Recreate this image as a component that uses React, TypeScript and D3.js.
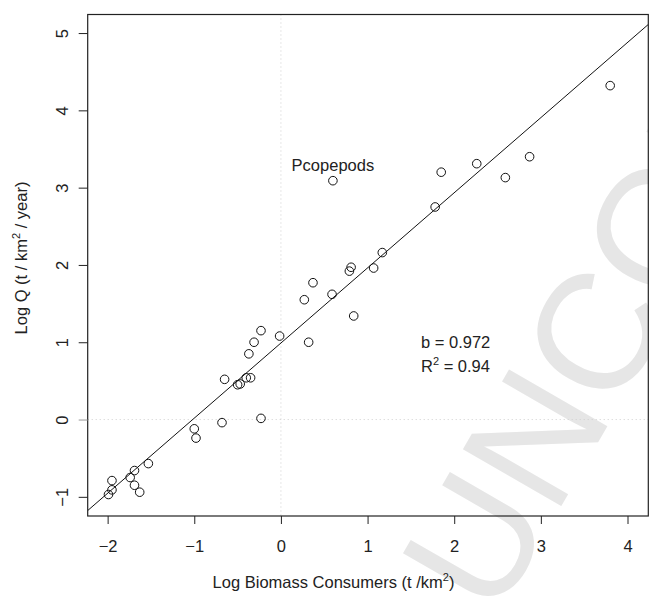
import React, { useEffect, useRef } from 'react';
import * as d3 from 'd3';

// log biomass consumers (x) vs log Q (y)
const biomass = [3.80, 0.60, 1.85, 2.26, 2.59, 2.87, 1.78, 1.17, 1.07, 0.81, 0.79, 0.37, 0.27, 0.59, 0.84, 0.32,
  -0.015, -0.23, -0.31, -0.37, -0.65, -0.50, -0.47, -0.40, -0.35, -0.23, -0.68, -1.00, -0.98, -1.53, -1.69,
  -1.74, -1.69, -1.63, -1.95, -1.95, -1.99];
const logQ = [4.32, 3.09, 3.20, 3.31, 3.13, 3.40, 2.75, 2.16, 1.96, 1.97, 1.92, 1.77, 1.55, 1.62, 1.34, 1.00,
  1.08, 1.15, 1.00, 0.85, 0.52, 0.45, 0.46, 0.54, 0.54, 0.015, -0.04, -0.12, -0.24, -0.57, -0.66,
  -0.75, -0.85, -0.94, -0.79, -0.91, -0.97];
const xTicks = [-2, -1, 0, 1, 2, 3, 4];
const yTicks = [-1, 0, 1, 2, 3, 4, 5];
const intercept = 0.99;
const slope = 0.972;
const labelled = { name: 'Pcopepods', index: 1 };

const fmt = (v: number) => (v < 0 ? '\u2212' + Math.abs(v) : String(v));

const App = () => {
  const svgRef = useRef<SVGSVGElement>(null);

  useEffect(() => {
    document.body.style.margin = '0';
    const svg = d3.select(svgRef.current);
    svg.selectAll('*').remove();
    const left = 87.7, right = 648.3, top = 14.5, bottom = 516;
    const font = 'Liberation Sans, Arial, Helvetica, sans-serif';
    const fs = 16.5;

    const x = d3.scaleLinear().domain([-2.23, 4.24]).range([left, right]);
    const y = d3.scaleLinear().domain([-1.248, 5.24]).range([bottom, top]);

    // watermark
    svg.append('text')
      .attr('transform', 'translate(495,621) rotate(-60)')
      .attr('font-family', font)
      .attr('font-size', 165)
      .attr('fill', '#e6e6e6')
      .text('UNCORRECTED PROOF');

    // dotted zero lines
    svg.append('line')
      .attr('x1', x(0)).attr('x2', x(0)).attr('y1', top).attr('y2', bottom)
      .attr('stroke', '#cfcfcf').attr('stroke-dasharray', '1,3');
    svg.append('line')
      .attr('x1', left).attr('x2', right).attr('y1', y(0)).attr('y2', y(0))
      .attr('stroke', '#cfcfcf').attr('stroke-dasharray', '1,3');

    // regression line, clipped to the box
    svg.append('clipPath').attr('id', 'box')
      .append('rect').attr('x', left).attr('y', top).attr('width', right - left).attr('height', bottom - top);
    const dom = x.domain();
    svg.append('line')
      .attr('clip-path', 'url(#box)')
      .attr('x1', x(dom[0])).attr('y1', y(intercept + slope * dom[0]))
      .attr('x2', x(dom[1])).attr('y2', y(intercept + slope * dom[1]))
      .attr('stroke', '#111').attr('stroke-width', 1);

    // points
    svg.selectAll('circle')
      .data(biomass)
      .enter().append('circle')
        .attr('cx', d => x(d))
        .attr('cy', (d, i) => y(logQ[i]))
        .attr('r', 4.3)
        .attr('fill', 'none')
        .attr('stroke', '#111')
        .attr('stroke-width', 1);

    svg.append('text')
      .attr('x', x(biomass[labelled.index]))
      .attr('y', y(logQ[labelled.index]) - 10)
      .attr('text-anchor', 'middle')
      .attr('font-family', font).attr('font-size', fs).attr('fill', '#222')
      .text(labelled.name);

    // box
    svg.append('rect')
      .attr('x', left).attr('y', top).attr('width', right - left).attr('height', bottom - top)
      .attr('fill', 'none').attr('stroke', '#222').attr('stroke-width', 1.2);

    // x axis
    const xa = svg.append('g').attr('transform', `translate(0,${bottom})`)
      .call(d3.axisBottom(x).tickValues(xTicks).tickSize(8).tickFormat(d => fmt(+d)));
    xa.select('.domain').remove();
    xa.selectAll('line').attr('stroke', '#222');
    xa.selectAll('text').attr('font-family', font).attr('font-size', fs).attr('fill', '#222').attr('dy', 0).attr('y', 36);

    // y axis
    const ya = svg.append('g').attr('transform', `translate(${left},0)`)
      .call(d3.axisLeft(y).tickValues(yTicks).tickSize(9).tickFormat(d => fmt(+d)));
    ya.select('.domain').remove();
    ya.selectAll('line').attr('stroke', (d: any) => (d === 0 ? '#999' : '#222'));
    ya.selectAll('text')
      .attr('font-family', font).attr('font-size', fs).attr('fill', '#222')
      .attr('x', null).attr('dy', null).attr('text-anchor', 'middle')
      .attr('transform', 'translate(-20,0) rotate(-90)');

    // axis titles
    const xt = svg.append('text')
      .attr('x', 333.5).attr('y', 588).attr('text-anchor', 'middle')
      .attr('font-family', font).attr('font-size', fs).attr('fill', '#222');
    xt.append('tspan').text('Log Biomass Consumers (t /km');
    xt.append('tspan').attr('font-size', 11).attr('dy', -7).text('2');
    xt.append('tspan').attr('dy', 7).text(')');

    const yt = svg.append('text')
      .attr('transform', 'translate(26.5,258) rotate(-90)').attr('text-anchor', 'middle')
      .attr('font-family', font).attr('font-size', fs).attr('fill', '#222');
    yt.append('tspan').text('Log Q (t / km');
    yt.append('tspan').attr('font-size', 11).attr('dy', -7).text('2');
    yt.append('tspan').attr('dy', 7).text(' / year)');

    // fit stats
    svg.append('text')
      .attr('x', 421).attr('y', 348)
      .attr('font-family', font).attr('font-size', fs).attr('fill', '#222')
      .text('b = ' + slope);
    const r2 = svg.append('text')
      .attr('x', 421).attr('y', 372)
      .attr('font-family', font).attr('font-size', fs).attr('fill', '#222');
    r2.append('tspan').text('R');
    r2.append('tspan').attr('font-size', 11).attr('dy', -7).text('2');
    r2.append('tspan').attr('dy', 7).text(' = 0.94');
  }, []);

  return (
    <svg ref={svgRef} width="649" height="596" style={{ display: 'block' }}>
    </svg>
  );
};

export default App;
